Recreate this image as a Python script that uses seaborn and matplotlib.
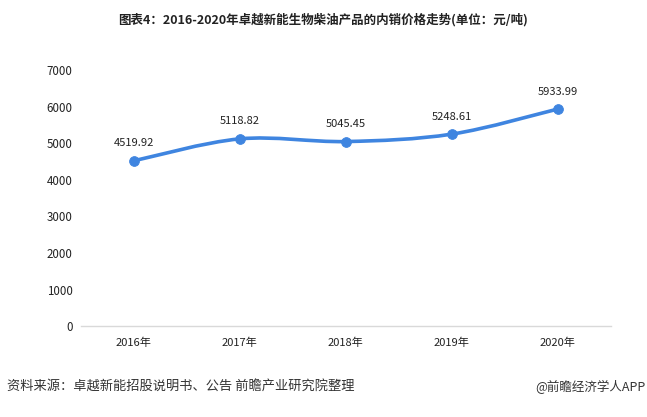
import matplotlib
matplotlib.use("Agg")
import matplotlib.pyplot as plt
import seaborn as sns
import numpy as np
import pandas as pd
from matplotlib.path import Path
from matplotlib.patches import PathPatch

years = ["2016年", "2017年", "2018年", "2019年", "2020年"]
prices = [4519.92, 5118.82, 5045.45, 5248.61, 5933.99]
yticks = [0, 1000, 2000, 3000, 4000, 5000, 6000, 7000]

title = "图表4：2016-2020年卓越新能生物柴油产品的内销价格走势(单位：元/吨)"
source = "资料来源：卓越新能招股说明书、公告 前瞻产业研究院整理"
brand = "@前瞻经济学人APP"

sns.set_theme(style="white")
plt.rcParams['font.family'] = ['Noto Sans CJK SC', 'DejaVu Sans']

fig = plt.figure(figsize=(6.47, 4.17), dpi=100)
ax = fig.add_axes([0.125, 0.218, 0.819, 0.614])

df = pd.DataFrame({"year": years, "price": prices})
df["x"] = np.arange(len(years))
color = "#3F85E0"

# smooth curve (Catmull-Rom -> cubic Bezier) through the data points
xs = df["x"].to_numpy(dtype=float)
ys = df["price"].to_numpy(dtype=float)
verts = [(xs[0], ys[0])]
codes = [Path.MOVETO]
t = 0.5
for i in range(len(xs) - 1):
    p0 = (xs[i - 1], ys[i - 1]) if i > 0 else (xs[i], ys[i])
    p1 = (xs[i], ys[i])
    p2 = (xs[i + 1], ys[i + 1])
    p3 = (xs[i + 2], ys[i + 2]) if i + 2 < len(xs) else (xs[i + 1], ys[i + 1])
    c1 = (p1[0] + (p2[0] - p0[0]) * t / 3, p1[1] + (p2[1] - p0[1]) * t / 3)
    c2 = (p2[0] - (p3[0] - p1[0]) * t / 3, p2[1] - (p3[1] - p1[1]) * t / 3)
    verts += [c1, c2, p2]
    codes += [Path.CURVE4] * 3
ax.add_patch(PathPatch(Path(verts, codes), facecolor="none", edgecolor=color, lw=2.6, zorder=2))

sns.scatterplot(data=df, x="x", y="price", ax=ax, color=color, s=50, edgecolor=color, zorder=3, legend=False)

for xi, yi in zip(xs, ys):
    ax.annotate(f"{yi:.2f}", (xi, yi), xytext=(0, 9), textcoords="offset points",
                ha="center", va="bottom", fontsize=8, color="#222222")

ax.set_xlim(-0.5, len(years) - 0.5)
ax.set_ylim(0, 7000)
ax.set_xticks(xs)
ax.set_xticklabels(years, fontsize=8, color="#222222")
ax.set_yticks(yticks)
ax.set_yticklabels([str(v) for v in yticks], fontsize=8.3, color="#222222")
ax.set_xlabel("")
ax.set_ylabel("")
for s in ["top", "right", "left"]:
    ax.spines[s].set_visible(False)
ax.spines["bottom"].set_color("#D9D9D9")
ax.spines["bottom"].set_linewidth(1)
ax.tick_params(axis="both", length=0, pad=8)
ax.tick_params(axis="y", pad=6)
ax.grid(False)

fig.text(0.5, 0.952, title, ha="center", va="center", fontsize=9, fontweight="bold", color="#222222")
fig.text(0.011, 0.072, source, ha="left", va="center", fontsize=9.5, color="#333333")
fig.text(0.997, 0.072, brand, ha="right", va="center", fontsize=9, color="#333333")

fig.savefig("out.png", dpi=100)
